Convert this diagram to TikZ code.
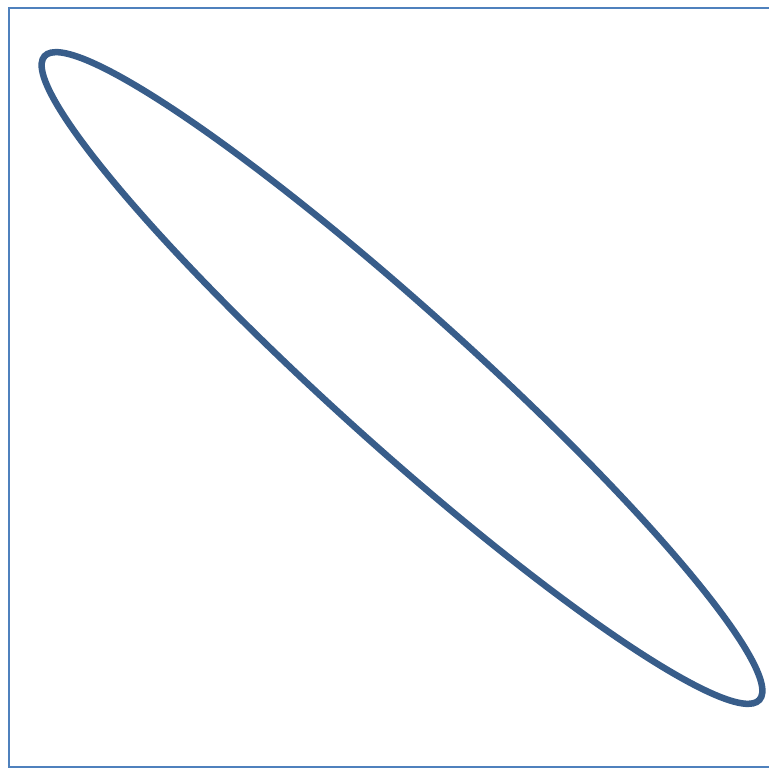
\documentclass[tikz,border=0pt]{standalone}
\usepackage{tikz}
\usepackage{xcolor}
\definecolor{frameblue}{HTML}{4F81BD}
\definecolor{ringblue}{HTML}{385D8A}
\tikzset{
    frame/.style={draw=frameblue, line width=2pt},
    ring/.style={draw=ringblue, line width=6.5pt}
}

\begin{document}
\begin{tikzpicture}[x=1pt, y=-1pt]
    \useasboundingbox (0,0) rectangle (769,769);
    % plot window
    \draw[frame] (9,8) rectangle (790,767);
    % the elongated ellipse
    \coordinate (c) at (402,378);
    \draw[ring, rotate around={-42:(c)}] (c) ellipse [x radius=481, y radius=68];
\end{tikzpicture}
\end{document}
